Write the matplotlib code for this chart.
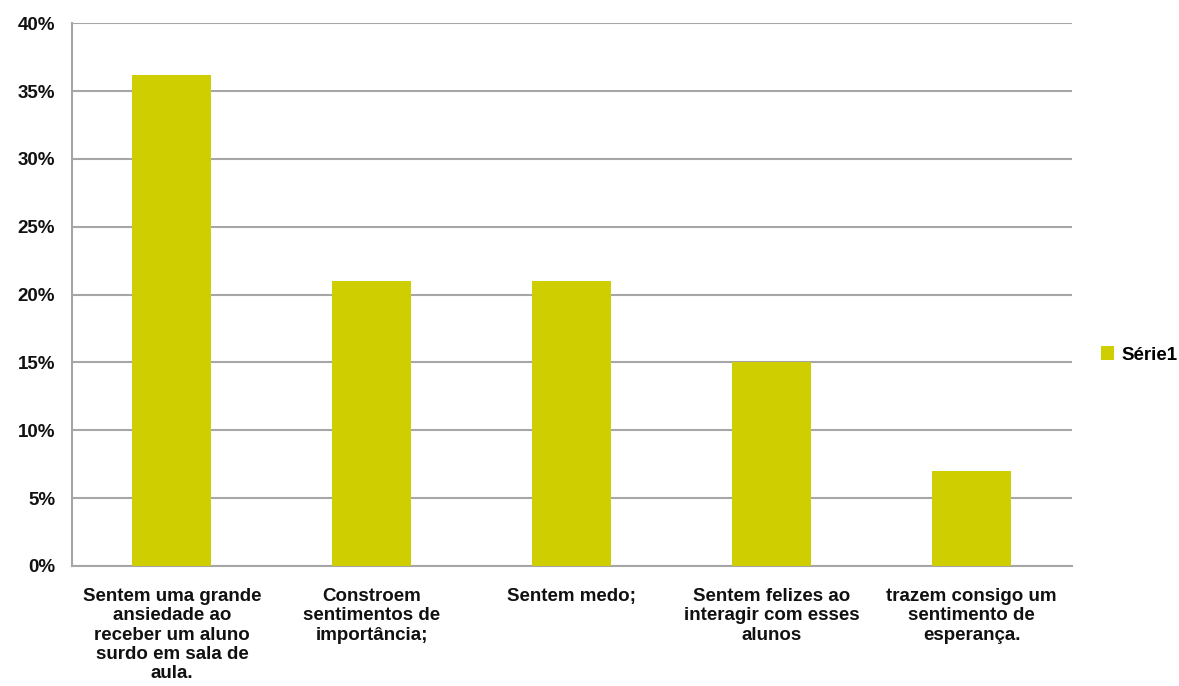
import numpy as np
import matplotlib.pyplot as plt
from matplotlib.ticker import PercentFormatter

categorias = [
    'Sentem uma grande\nansiedade ao\nreceber um aluno\nsurdo em sala de\naula.',
    'Constroem\nsentimentos de\nimportância;',
    'Sentem medo;',
    'Sentem felizes ao\ninteragir com esses\nalunos',
    'trazem consigo um\nsentimento de\nesperança.',
]
valores = [36.2, 21, 21, 15, 7]
serie = 'Série1'

plt.rcParams['font.family'] = ['Liberation Sans', 'DejaVu Sans']
plt.rcParams['font.weight'] = 'bold'

fig = plt.figure(figsize=(11.79, 6.86), dpi=100)
ax = fig.add_axes([0.061, 0.175, 0.848, 0.791])

x = np.arange(len(categorias))
ax.bar(x, valores, width=0.395, color='#CECE00', label=serie, zorder=3)

ax.set_xlim(-0.5, len(categorias) - 0.5)
ax.set_ylim(0, 40)
ax.set_yticks(np.arange(0, 41, 5))
ax.yaxis.set_major_formatter(PercentFormatter(decimals=0))
ax.yaxis.grid(True, color='#A6A6A6', lw=1.5, zorder=0)

ax.set_xticks(x)
ax.set_xticklabels(categorias, fontsize=13.5, linespacing=1.17, color='#111111')
ax.tick_params(axis='x', length=0, pad=16)
ax.tick_params(axis='y', length=0, pad=12, labelsize=13.5, labelcolor='#111111')

for s in ['top', 'right']:
    ax.spines[s].set_visible(False)
for s in ['left', 'bottom']:
    ax.spines[s].set_color('#A6A6A6')
    ax.spines[s].set_linewidth(1.5)

fig.legend(loc='center left', bbox_to_anchor=(0.934, 1 - 355 / 686), frameon=False,
           fontsize=13.5, handlelength=0.7, handleheight=0.7, handletextpad=0.4,
           borderaxespad=0, borderpad=0)

fig.savefig('out.png', dpi=100)
